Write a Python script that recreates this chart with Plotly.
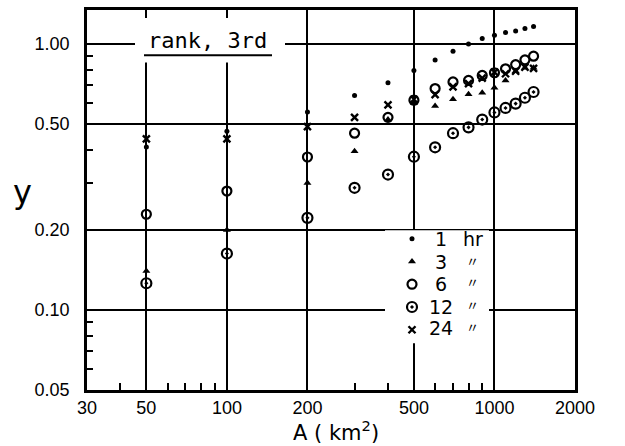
import plotly.graph_objects as go

# ---------------- data ----------------
area_km2 = [50, 100, 200, 300, 400, 500, 600, 700, 800, 900, 1000, 1100, 1200, 1300, 1400]

y_1hr = [0.41, 0.47, 0.555, 0.64, 0.715, 0.795, 0.87, 0.94, 1.00, 1.05, 1.08, 1.105, 1.12, 1.145, 1.165]
y_3hr = [0.14, 0.20, 0.30, 0.395, 0.52, 0.60, 0.585, 0.62, 0.648, 0.656, 0.685, 0.73, 0.79, 0.815, 0.815]
y_6hr = [0.229, 0.28, 0.376, 0.462, 0.53, 0.615, 0.68, 0.72, 0.73, 0.762, 0.78, 0.807, 0.837, 0.872, 0.90]
y_12hr = [0.126, 0.163, 0.222, 0.288, 0.323, 0.377, 0.409, 0.462, 0.486, 0.52, 0.553, 0.575, 0.597, 0.628, 0.66]
y_24hr = [0.44, 0.44, 0.489, 0.53, 0.59, 0.62, 0.645, 0.69, 0.71, 0.745, 0.784, 0.773, 0.79, 0.818, 0.81]

legend_numbers = ["1", "3", "6", "12", "24"]
legend_units = ["hr", "〃", "〃", "〃", "〃"]

x_tick_vals = [30, 50, 100, 200, 500, 1000, 2000]
x_tick_text = ["30", "50", "100", "200", "500", "1000", "2000"]
x_minor_vals = [40, 60, 70, 80, 90, 300, 400, 600, 700, 800, 900]
y_tick_vals = [0.05, 0.1, 0.2, 0.5, 1.0]
y_tick_text = ["0.05", "0.10", "0.20", "0.50", "1.00"]
y_minor_vals = [0.06, 0.07, 0.08, 0.09, 0.3, 0.4, 0.6, 0.7, 0.8, 0.9]

title_text = "rank, 3rd"
x_title = "A ( km<sup>2</sup>)"
y_title = "y"

# ---------------- layout geometry ----------------
W, H = 625, 446
L, R, T, B = 87, 575, 7, 390
FONT = "DejaVu Sans"
TICKFONT = "Liberation Sans"
MONO = "DejaVu Sans Mono"


def px(xp):
    return (xp - L) / (R - L)


def py(yp):
    return (B - yp) / (B - T)


series = [
    (y_1hr, dict(symbol="circle", size=5, color="black")),
    (y_3hr, dict(symbol="triangle-up", size=7, color="black")),
    (y_6hr, dict(symbol="circle-open", size=9, color="black", line=dict(width=2.2, color="black"))),
    (y_12hr, dict(symbol="circle-open-dot", size=10, color="black", line=dict(width=2.2, color="black"))),
    (y_24hr, dict(symbol="x-thin-open", size=7, color="black", line=dict(width=2.4, color="black"))),
]

fig = go.Figure()
for ys, mk in series:
    fig.add_trace(go.Scatter(x=area_km2, y=ys, mode="markers", marker=mk,
                             name=" ", showlegend=True))

axis_common = dict(
    showline=True, linecolor="black", linewidth=2.5, mirror=True,
    showgrid=True, gridcolor="black", gridwidth=1.5,
    ticks="", zeroline=False,
    tickfont=dict(family=TICKFONT, size=18, color="black"),
)

fig.update_xaxes(
    type="log", range=[1.4771, 3.30103],
    tickmode="array", tickvals=x_tick_vals, ticktext=x_tick_text,
    ticklabelstandoff=0,
    minor=dict(tickmode="array", tickvals=x_minor_vals, ticks="inside",
               ticklen=7, tickwidth=1.5, tickcolor="black", showgrid=False),
    **axis_common,
)
fig.update_yaxes(
    type="log", range=[-1.30103, 0.128],
    tickmode="array", tickvals=y_tick_vals, ticktext=y_tick_text,
    ticklabelstandoff=11,
    minor=dict(tickmode="array", tickvals=y_minor_vals, ticks="inside",
               ticklen=6, tickwidth=1.5, tickcolor="black", showgrid=False),
    **axis_common,
)

shapes = [
    # white break in the grid behind the title
    dict(type="rect", xref="paper", yref="paper", x0=px(135), x1=px(285), y0=py(60), y1=py(15),
         fillcolor="white", line=dict(width=0), layer="above"),
    # white break in the grid behind the legend
    dict(type="rect", xref="paper", yref="paper", x0=px(385), x1=px(489), y0=py(343), y1=py(229),
         fillcolor="white", line=dict(width=0), layer="above"),
    # title underline
    dict(type="line", xref="paper", yref="paper", x0=px(144), x1=px(272), y0=py(52.5), y1=py(52.5),
         line=dict(color="black", width=2), layer="above"),
]

annotations = [
    dict(text=title_text, x=px(207), y=py(38), xref="paper", yref="paper", showarrow=False,
         xanchor="center", yanchor="middle", font=dict(family=MONO, size=22, color="black")),
    dict(text=y_title, x=px(22), y=py(190), xref="paper", yref="paper", showarrow=False,
         xanchor="center", yanchor="middle", font=dict(family=FONT, size=32, color="black")),
    dict(text=x_title, x=px(336), y=py(431), xref="paper", yref="paper", showarrow=False,
         xanchor="center", yanchor="middle", font=dict(family=FONT, size=21, color="black")),
]

row_y = [238, 261, 283, 306, 328]
for i, (num, unit) in enumerate(zip(legend_numbers, legend_units)):
    annotations.append(dict(text=num, x=px(441), y=py(row_y[i]), xref="paper", yref="paper",
                            showarrow=False, xanchor="center", yanchor="middle", borderpad=0,
                            font=dict(family=FONT, size=19, color="black")))
    if unit == "hr":
        annotations.append(dict(text=unit, x=px(473), y=py(row_y[i]), xref="paper", yref="paper",
                                showarrow=False, xanchor="center", yanchor="middle", borderpad=0,
                                font=dict(family=FONT, size=19, color="black")))
    else:
        annotations.append(dict(text=unit, x=px(472), y=py(row_y[i] - 2), xref="paper", yref="paper",
                                showarrow=False, xanchor="center", yanchor="middle", borderpad=0,
                                font=dict(family="Noto Sans CJK JP", size=13, color="black")))

fig.update_layout(
    width=W, height=H,
    margin=dict(l=L, r=W - R, t=T, b=H - B, pad=0),
    paper_bgcolor="white", plot_bgcolor="white",
    font=dict(family=FONT, color="black"),
    showlegend=True,
    legend=dict(x=px(392), y=py(221), xanchor="left", yanchor="top",
                bgcolor="rgba(0,0,0,0)", borderwidth=0,
                font=dict(family=FONT, size=15.2, color="black"),
                itemwidth=30, tracegroupgap=0),
    shapes=shapes,
    annotations=annotations,
)

fig.write_html("out.html")
